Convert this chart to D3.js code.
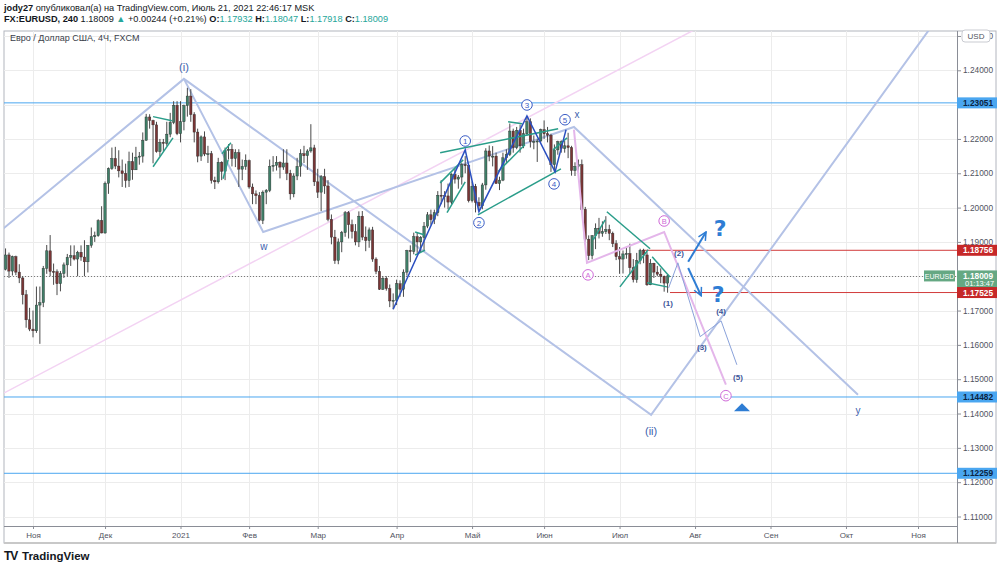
<!DOCTYPE html>
<html><head><meta charset="utf-8">
<script src="https://cdn.jsdelivr.net/npm/d3@7"></script>
<style>
body{margin:0;background:#fff;}
svg{display:block;font-family:"Liberation Sans",Arial,sans-serif;}
</style>
</head><body>
<svg id="c" width="1000" height="567"></svg>
<script>
// ---------------- DATA ----------------
// daily EURUSD candles (trading days); bar index 0 = 2020-11-02
const firstBarIdx = -8;
const dates = [
"2020-10-21","2020-10-22","2020-10-23","2020-10-26","2020-10-27","2020-10-28","2020-10-29","2020-10-30",
"2020-11-02","2020-11-03","2020-11-04","2020-11-05","2020-11-06","2020-11-09","2020-11-10","2020-11-11","2020-11-12","2020-11-13","2020-11-16","2020-11-17","2020-11-18","2020-11-19","2020-11-20","2020-11-23","2020-11-24","2020-11-25","2020-11-26","2020-11-27","2020-11-30",
"2020-12-01","2020-12-02","2020-12-03","2020-12-04","2020-12-07","2020-12-08","2020-12-09","2020-12-10","2020-12-11","2020-12-14","2020-12-15","2020-12-16","2020-12-17","2020-12-18","2020-12-21","2020-12-22","2020-12-23","2020-12-24","2020-12-28","2020-12-29","2020-12-30","2020-12-31",
"2021-01-04","2021-01-05","2021-01-06","2021-01-07","2021-01-08","2021-01-11","2021-01-12","2021-01-13","2021-01-14","2021-01-15","2021-01-18","2021-01-19","2021-01-20","2021-01-21","2021-01-22","2021-01-25","2021-01-26","2021-01-27","2021-01-28","2021-01-29",
"2021-02-01","2021-02-02","2021-02-03","2021-02-04","2021-02-05","2021-02-08","2021-02-09","2021-02-10","2021-02-11","2021-02-12","2021-02-15","2021-02-16","2021-02-17","2021-02-18","2021-02-19","2021-02-22","2021-02-23","2021-02-24","2021-02-25","2021-02-26",
"2021-03-01","2021-03-02","2021-03-03","2021-03-04","2021-03-05","2021-03-08","2021-03-09","2021-03-10","2021-03-11","2021-03-12","2021-03-15","2021-03-16","2021-03-17","2021-03-18","2021-03-19","2021-03-22","2021-03-23","2021-03-24","2021-03-25","2021-03-26","2021-03-29","2021-03-30","2021-03-31",
"2021-04-01","2021-04-02","2021-04-05","2021-04-06","2021-04-07","2021-04-08","2021-04-09","2021-04-12","2021-04-13","2021-04-14","2021-04-15","2021-04-16","2021-04-19","2021-04-20","2021-04-21","2021-04-22","2021-04-23","2021-04-26","2021-04-27","2021-04-28","2021-04-29","2021-04-30",
"2021-05-03","2021-05-04","2021-05-05","2021-05-06","2021-05-07","2021-05-10","2021-05-11","2021-05-12","2021-05-13","2021-05-14","2021-05-17","2021-05-18","2021-05-19","2021-05-20","2021-05-21","2021-05-24","2021-05-25","2021-05-26","2021-05-27","2021-05-28","2021-05-31",
"2021-06-01","2021-06-02","2021-06-03","2021-06-04","2021-06-07","2021-06-08","2021-06-09","2021-06-10","2021-06-11","2021-06-14","2021-06-15","2021-06-16","2021-06-17","2021-06-18","2021-06-21","2021-06-22","2021-06-23","2021-06-24","2021-06-25","2021-06-28","2021-06-29","2021-06-30",
"2021-07-01","2021-07-02","2021-07-05","2021-07-06","2021-07-07","2021-07-08","2021-07-09","2021-07-12","2021-07-13","2021-07-14","2021-07-15","2021-07-16","2021-07-19","2021-07-20","2021-07-21"
];
const open = [
1.1820,1.1862,1.1815,1.1857,1.1812,1.1795,1.1746,1.1673,
1.1646,1.1641,1.1716,1.1723,1.1823,1.1874,1.1814,1.1813,1.1778,1.1808,1.1833,1.1855,1.1860,1.1850,1.1870,1.1856,1.1842,1.1890,1.1915,1.1918,1.1962,
1.1926,1.2071,1.2114,1.2143,1.2121,1.2107,1.2099,1.2079,1.2134,1.2110,1.2147,1.2150,1.2196,1.2264,1.2254,1.2241,1.2163,1.2190,1.2187,1.2214,1.2248,1.2298,
1.2215,1.2250,1.2297,1.2325,1.2271,1.2220,1.2150,1.2206,1.2156,1.2157,1.2079,1.2075,1.2132,1.2106,1.2166,1.2170,1.2143,1.2160,1.2112,1.2120,
1.2137,1.2060,1.2040,1.2035,1.1963,1.2045,1.2050,1.2120,1.2123,1.2132,1.2118,1.2130,1.2100,1.2040,1.2092,1.2120,1.2157,1.2151,1.2165,1.2174,
1.2075,1.2045,1.2090,1.2063,1.1966,1.1914,1.1846,1.1900,1.1927,1.1985,1.1950,1.1930,1.1900,1.1975,1.1914,1.1904,1.1935,1.1850,1.1814,1.1762,1.1794,1.1764,1.1728,
1.1730,1.1778,1.1762,1.1812,1.1875,1.1872,1.1915,1.1900,1.1913,1.1946,1.1979,1.1965,1.1985,1.2036,1.2035,1.2034,1.2016,1.2097,1.2083,1.2089,1.2125,1.2123,
1.2020,1.2062,1.2015,1.2005,1.2066,1.2165,1.2150,1.2150,1.2070,1.2080,1.2145,1.2155,1.2223,1.2175,1.2225,1.2180,1.2215,1.2250,1.2192,1.2193,1.2194,
1.2227,1.2215,1.2211,1.2125,1.2168,1.2192,1.2172,1.2180,1.2175,1.2108,1.2120,1.2125,1.1995,1.1908,1.1860,1.1918,1.1940,1.1925,1.1930,1.1936,1.1925,1.1895,
1.1857,1.1850,1.1865,1.1866,1.1825,1.1790,1.1845,1.1875,1.1862,1.1775,1.1838,1.1812,1.1806,1.1800,1.1780
];
const high = [
1.1881,1.1869,1.1860,1.1860,1.1835,1.1800,1.1760,1.1708,
1.1700,1.1770,1.1770,1.1830,1.1891,1.1920,1.1837,1.1820,1.1815,1.1840,1.1865,1.1890,1.1890,1.1874,1.1890,1.1905,1.1890,1.1942,1.1930,1.1966,1.2004,
1.2076,1.2117,1.2175,1.2177,1.2167,1.2140,1.2128,1.2163,1.2160,1.2177,1.2162,1.2219,1.2273,1.2272,1.2256,1.2250,1.2200,1.2200,1.2250,1.2276,1.2310,1.2310,
1.2310,1.2300,1.2349,1.2345,1.2278,1.2230,1.2210,1.2222,1.2180,1.2165,1.2090,1.2145,1.2135,1.2175,1.2185,1.2185,1.2170,1.2170,1.2140,1.2155,
1.2140,1.2070,1.2050,1.2045,1.2050,1.2054,1.2140,1.2150,1.2150,1.2135,1.2170,1.2170,1.2110,1.2100,1.2145,1.2170,1.2180,1.2170,1.2243,1.2183,
1.2113,1.2095,1.2113,1.2080,1.1980,1.1935,1.1910,1.1932,1.1990,1.1990,1.1965,1.1952,1.1989,1.1990,1.1945,1.1942,1.1944,1.1855,1.1830,1.1800,1.1800,1.1776,1.1750,
1.1790,1.1788,1.1820,1.1877,1.1890,1.1927,1.1928,1.1917,1.1958,1.1987,1.1994,1.1994,1.2048,1.2080,1.2048,1.2070,1.2100,1.2115,1.2095,1.2130,1.2150,1.2125,
1.2076,1.2069,1.2030,1.2072,1.2173,1.2181,1.2179,1.2160,1.2090,1.2160,1.2170,1.2245,1.2230,1.2235,1.2242,1.2230,1.2266,1.2260,1.2210,1.2200,1.2230,
1.2254,1.2235,1.2215,1.2184,1.2195,1.2196,1.2194,1.2218,1.2180,1.2132,1.2140,1.2140,1.2002,1.1919,1.1920,1.1954,1.1970,1.1960,1.1975,1.1950,1.1930,1.1905,
1.1885,1.1875,1.1885,1.1895,1.1850,1.1868,1.1880,1.1880,1.1870,1.1850,1.1839,1.1830,1.1823,1.1802,1.1805
];
const low = [
1.1817,1.1795,1.1802,1.1803,1.1780,1.1718,1.1650,1.1640,
1.1622,1.1635,1.1603,1.1710,1.1807,1.1800,1.1775,1.1745,1.1756,1.1795,1.1800,1.1830,1.1846,1.1800,1.1845,1.1800,1.1811,1.1883,1.1900,1.1915,1.1925,
1.1924,1.2040,1.2110,1.2112,1.2088,1.2060,1.2058,1.2060,1.2081,1.2110,1.2125,1.2131,1.2195,1.2230,1.2129,1.2160,1.2150,1.2165,1.2180,1.2205,1.2243,1.2211,
1.2190,1.2225,1.2265,1.2250,1.2190,1.2132,1.2136,1.2150,1.2130,1.2070,1.2054,1.2070,1.2080,1.2080,1.2140,1.2120,1.2118,1.2060,1.2080,1.2110,
1.2055,1.2010,1.2010,1.1960,1.1952,1.2010,1.2045,1.2105,1.2108,1.2085,1.2110,1.2080,1.2023,1.2030,1.2080,1.2090,1.2130,1.2110,1.2160,1.2063,
1.2028,1.1990,1.2040,1.1960,1.1893,1.1836,1.1835,1.1870,1.1915,1.1910,1.1910,1.1890,1.1885,1.1905,1.1873,1.1883,1.1842,1.1806,1.1760,1.1760,1.1758,1.1710,1.1704,
1.1716,1.1740,1.1740,1.1802,1.1841,1.1864,1.1868,1.1870,1.1873,1.1940,1.1950,1.1952,1.1975,1.2010,1.2000,1.1995,1.2010,1.2070,1.2055,1.2067,1.2100,1.2015,
1.2015,1.1986,1.1993,1.1995,1.2052,1.2135,1.2120,1.2070,1.2051,1.2077,1.2130,1.2150,1.2160,1.2170,1.2160,1.2173,1.2210,1.2175,1.2170,1.2133,1.2190,
1.2200,1.2190,1.2104,1.2104,1.2154,1.2160,1.2160,1.2144,1.2093,1.2092,1.2105,1.1990,1.1892,1.1847,1.1849,1.1879,1.1910,1.1915,1.1923,1.1905,1.1885,1.1847,
1.1807,1.1808,1.1851,1.1807,1.1782,1.1781,1.1835,1.1838,1.1772,1.1774,1.1795,1.1800,1.1780,1.1755,1.1752
];
const close = [
1.1862,1.1815,1.1857,1.1812,1.1795,1.1746,1.1673,1.1646,
1.1641,1.1716,1.1723,1.1823,1.1874,1.1814,1.1813,1.1778,1.1808,1.1833,1.1855,1.1860,1.1850,1.1870,1.1856,1.1842,1.1890,1.1915,1.1918,1.1962,1.1926,
1.2071,1.2114,1.2143,1.2121,1.2107,1.2099,1.2079,1.2134,1.2110,1.2147,1.2150,1.2196,1.2264,1.2254,1.2241,1.2163,1.2190,1.2187,1.2214,1.2248,1.2298,1.2215,
1.2250,1.2297,1.2325,1.2271,1.2220,1.2150,1.2206,1.2156,1.2157,1.2079,1.2075,1.2132,1.2106,1.2166,1.2170,1.2143,1.2160,1.2112,1.2120,1.2137,
1.2060,1.2040,1.2035,1.1963,1.2045,1.2050,1.2120,1.2123,1.2132,1.2118,1.2130,1.2100,1.2040,1.2092,1.2120,1.2157,1.2151,1.2165,1.2174,1.2075,
1.2045,1.2090,1.2063,1.1966,1.1914,1.1846,1.1900,1.1927,1.1985,1.1950,1.1930,1.1900,1.1975,1.1914,1.1904,1.1935,1.1850,1.1814,1.1762,1.1794,1.1764,1.1728,1.1730,
1.1778,1.1762,1.1812,1.1875,1.1872,1.1915,1.1900,1.1913,1.1946,1.1979,1.1965,1.1985,1.2036,1.2035,1.2034,1.2016,1.2097,1.2083,1.2089,1.2125,1.2123,1.2020,
1.2062,1.2015,1.2005,1.2066,1.2165,1.2150,1.2150,1.2070,1.2080,1.2145,1.2155,1.2223,1.2175,1.2225,1.2180,1.2215,1.2250,1.2192,1.2193,1.2194,1.2227,
1.2215,1.2211,1.2125,1.2168,1.2192,1.2172,1.2180,1.2175,1.2108,1.2120,1.2125,1.1995,1.1908,1.1860,1.1918,1.1940,1.1925,1.1930,1.1936,1.1925,1.1895,1.1857,
1.1850,1.1865,1.1866,1.1825,1.1790,1.1845,1.1875,1.1862,1.1775,1.1838,1.1812,1.1806,1.1800,1.1780,1.18009
];

// axis ticks
const monthTickIdx = [0,21,43,63,83,106,128,149,171,193,215,237,258];
const monthTickLabels = ["Ноя","Дек","2021","Фев","Мар","Апр","Май","Июн","Июл","Авг","Сен","Окт","Ноя"];
const priceTicks = [1.11,1.12,1.13,1.14,1.15,1.16,1.17,1.18,1.19,1.20,1.21,1.22,1.23,1.24,1.25];

// horizontal levels
const blueLevels = [1.23051, 1.14482, 1.12259];
const redLevels = [1.18756, 1.17525];
const redLevelFrom = [177.6, 185.7];
const lastPrice = 1.18009;
const lastPriceTimer = "01:13:47";

// drawings (bar index, price)
const outerWave = [[-9,1.1936],[44,1.2375],[180.2,1.1396],[264.4,1.2562]];
const wxyWave = [[44,1.2375],[67.1,1.1929],[157.7,1.2235],[240.5,1.1455]];
const pinkChannel = [[-8.4,1.1460],[193,1.2519]];
const impulse = [[105,1.1704],[126,1.2168],[130,1.1988],[144,1.2267],[152.2,1.2104],[155.4,1.2227]];
const abcWave = [[157.7,1.2227],[161.5,1.1839],[184.0,1.1929],[202.0,1.1484]];
const projWave = [[185.3,1.1766],[188.0,1.1839],[194.5,1.1624],[200.6,1.1670],[205.2,1.1542]];
const greenLines = [
 [35.0,1.2265,40.5,1.2253],[35.0,1.2119,40.8,1.2203],
 [55.1,1.2157,57.7,1.2189],[55.4,1.2084,56.9,1.2139],
 [111.4,1.1929,114.0,1.1921],[111.4,1.1862,114.3,1.1876],
 [118.7,1.2072,125.4,1.2139],[120.7,1.1985,126.0,1.2075],
 [118.7,1.2160,153.1,1.2230],[129.7,1.1979,153.9,1.2113],
 [138.5,1.2250,142.6,1.2244],[135.6,1.2105,143.4,1.2183],
 [151.6,1.2168,155.7,1.2203],
 [163.3,1.1906,166.8,1.1964],[167.3,1.1988,179.9,1.1880],[171.1,1.1769,179.3,1.1877],
 [180.5,1.1857,185.7,1.1798],[179.0,1.1781,184.8,1.1769]
];
const arrowsUpDown = [[191.0,1.1842,196.2,1.1929],[191.0,1.1824,194.8,1.1743]];
const questionMarks = [[200.3,1.1941],[199.7,1.1748]];
const triangleMark = [206.7,1.1418];

const waveText = ["(i)","w","x","y","(ii)"];
const waveTextPos = [[44,1.2410],[67.3,1.1889],[158.6,1.2272],[240.5,1.1411],[180.2,1.1350]];
const impulseText = ["1","2","3","4","5"];
const impulseTextPos = [[126.0,1.2194],[130.0,1.1956],[144.0,1.2299],[151.9,1.2069],[155.1,1.2256]];
const abcText = ["A","B","C"];
const abcTextPos = [[161.8,1.1804],[184.0,1.1961],[202.0,1.1452]];
const subText = ["(1)","(2)","(3)","(4)","(5)"];
const subTextPos = [[185.1,1.1723],[188.3,1.1868],[195.0,1.1594],[200.6,1.1700],[205.5,1.1507]];

// ---------------- CHART ----------------
const svg = d3.select("#c");
const P = {l:4, r:957, t:31, b:526};
const x = d3.scaleLinear().domain([0,258]).range([33,918]);
const y = d3.scaleLinear().domain([1.11,1.24]).range([516.5,70.3]);

svg.append("rect").attr("width",1000).attr("height",567).attr("fill","#fff");

// header
const h1 = svg.append("text").attr("x",4).attr("y",11).attr("font-size",9.2).attr("fill","#131722");
h1.append("tspan").attr("font-weight","bold").text("jody27");
h1.append("tspan").text(" опубликовал(а) на TradingView.com, Июль 21, 2021 22:46:17 MSK");
const h2 = svg.append("text").attr("x",4).attr("y",22).attr("font-size",9.2).attr("fill","#131722");
const teal = "#26a69a";
h2.append("tspan").attr("font-weight","bold").text("FX:EURUSD, 240");
h2.append("tspan").text("  1.18009 ");
h2.append("tspan").attr("fill",teal).text("▲");
h2.append("tspan").text(" +0.00244 (+0.21%) ");
[["O:","1.17932"],["H:","1.18047"],["L:","1.17918"],["C:","1.18009"]].forEach((d,i)=>{
  h2.append("tspan").attr("font-weight","bold").text((i?" ":"")+d[0]);
  h2.append("tspan").attr("fill",teal).text(d[1]);
});

// frame
svg.append("rect").attr("x",P.l).attr("y",P.t).attr("width",996-P.l).attr("height",543-P.t)
  .attr("fill","none").attr("stroke","#b2b5be").attr("stroke-width",1);
svg.append("line").attr("x1",P.l).attr("x2",996).attr("y1",543).attr("y2",543).attr("stroke","#c8c8c8").attr("stroke-width",2);

// grid
const grid = svg.append("g");
grid.selectAll(".hg").data(priceTicks.filter(p=>y(p)>P.t && y(p)<P.b)).join("line")
  .attr("x1",P.l).attr("x2",P.r).attr("y1",d=>Math.round(y(d))+0.5).attr("y2",d=>Math.round(y(d))+0.5)
  .attr("stroke","#ececec");
grid.selectAll(".vg").data(monthTickIdx).join("line")
  .attr("x1",d=>Math.round(x(d))+0.5).attr("x2",d=>Math.round(x(d))+0.5).attr("y1",P.t).attr("y2",P.b)
  .attr("stroke","#ececec");

// clip
svg.append("clipPath").attr("id","pc").append("rect").attr("x",P.l).attr("y",P.t).attr("width",P.r-P.l).attr("height",P.b-P.t);
const g = svg.append("g").attr("clip-path","url(#pc)");

// chart title
svg.append("text").attr("x",10).attr("y",41).attr("font-size",9).attr("fill","#3a3e4a").text("Евро / Доллар США, 4Ч, FXCM");

// horizontal levels
g.selectAll(".bl").data(blueLevels).join("line")
  .attr("x1",P.l).attr("x2",P.r).attr("y1",d=>y(d)).attr("y2",d=>y(d)).attr("stroke","#4aa6f0").attr("stroke-width",1);
g.selectAll(".rl").data(redLevels).join("line")
  .attr("x1",(d,i)=>x(redLevelFrom[i])).attr("x2",P.r).attr("y1",d=>y(d)).attr("y2",d=>y(d)).attr("stroke","#d23b3b").attr("stroke-width",1);
g.append("line").attr("x1",P.l).attr("x2",P.r).attr("y1",Math.round(y(lastPrice))+0.5).attr("y2",Math.round(y(lastPrice))+0.5)
  .attr("stroke","#7a7a7a").attr("stroke-dasharray","1,2");

// pink channel + big waves
const line = d3.line().x(d=>x(d[0])).y(d=>y(d[1]));
g.append("path").attr("d",line(pinkChannel)).attr("fill","none").attr("stroke","#f3d3f3").attr("stroke-width",1.5);
g.append("path").attr("d",line(outerWave)).attr("fill","none").attr("stroke","#b4c2e6").attr("stroke-width",2);
g.append("path").attr("d",line(wxyWave)).attr("fill","none").attr("stroke","#b4c2e6").attr("stroke-width",2);

// candles
const bars = dates.map((d,i)=>({idx:i+firstBarIdx,o:open[i],h:high[i],l:low[i],c:close[i]}));
const cg = g.append("g");
cg.selectAll(".wk").data(bars).join("line")
  .attr("x1",d=>x(d.idx)).attr("x2",d=>x(d.idx)).attr("y1",d=>y(d.h)).attr("y2",d=>y(d.l))
  .attr("stroke","#4a4a4a").attr("stroke-width",1);
cg.selectAll(".bd").data(bars).join("rect")
  .attr("x",d=>x(d.idx)-1.2).attr("width",2.4)
  .attr("y",d=>y(Math.max(d.o,d.c))).attr("height",d=>Math.max(1,Math.abs(y(d.o)-y(d.c))))
  .attr("fill",d=>d.c>=d.o?"#3f7f68":"#7a3535").attr("stroke","#2c2c2c").attr("stroke-width",0.4);

// pink ABC
g.append("path").attr("d",line(abcWave)).attr("fill","none").attr("stroke","#e4b6ea").attr("stroke-width",2);
// green trend lines
g.selectAll(".gl").data(greenLines).join("line")
  .attr("x1",d=>x(d[0])).attr("y1",d=>y(d[1])).attr("x2",d=>x(d[2])).attr("y2",d=>y(d[3]))
  .attr("stroke","#2a9d8a").attr("stroke-width",1.5);
// impulse
g.append("path").attr("d",line(impulse)).attr("fill","none").attr("stroke","#2a4fc0").attr("stroke-width",1.5);
// projection
g.append("path").attr("d",line(projWave)).attr("fill","none").attr("stroke","#8aa2da").attr("stroke-width",1);

// arrows
svg.append("defs").append("marker").attr("id","ah").attr("viewBox","0 0 10 10").attr("refX",9).attr("refY",5)
  .attr("markerWidth",5).attr("markerHeight",5).attr("orient","auto").attr("markerUnits","strokeWidth")
  .append("path").attr("d","M1,1 L9,5 L1,9").attr("fill","none").attr("stroke","#2e7dd4").attr("stroke-width",1.5);
g.selectAll(".ar").data(arrowsUpDown).join("line")
  .attr("x1",d=>x(d[0])).attr("y1",d=>y(d[1])).attr("x2",d=>x(d[2])).attr("y2",d=>y(d[3]))
  .attr("stroke","#2e7dd4").attr("stroke-width",2).attr("marker-end","url(#ah)");
g.selectAll(".qm").data(questionMarks).join("text")
  .attr("x",d=>x(d[0])).attr("y",d=>y(d[1])+8).attr("text-anchor","middle")
  .attr("font-size",22).attr("font-weight","bold").attr("fill","#2e7dd4").attr("font-family","DejaVu Sans, sans-serif").text("?");
g.append("path").attr("d",()=>{const cx=x(triangleMark[0]),cy=y(triangleMark[1]);return `M${cx-8},${cy+4}L${cx},${cy-4}L${cx+8},${cy+4}Z`;})
  .attr("fill","#2e7dd4");

// labels
g.selectAll(".wt").data(waveText).join("text")
  .attr("x",(d,i)=>x(waveTextPos[i][0])).attr("y",(d,i)=>y(waveTextPos[i][1])+4).attr("text-anchor","middle")
  .attr("font-size",(d)=>d.length>1?11:10).attr("fill","#3d5fae").text(d=>d);
const ig = g.selectAll(".it").data(impulseText).join("g")
  .attr("transform",(d,i)=>`translate(${x(impulseTextPos[i][0])},${y(impulseTextPos[i][1])})`);
ig.append("circle").attr("r",5.3).attr("fill","#fff").attr("stroke","#3a5cc5").attr("stroke-width",1);
ig.append("text").attr("y",2.9).attr("text-anchor","middle").attr("font-size",8).attr("fill","#3a5cc5").text(d=>d);
const ag = g.selectAll(".at").data(abcText).join("g")
  .attr("transform",(d,i)=>`translate(${x(abcTextPos[i][0])},${y(abcTextPos[i][1])})`);
ag.append("circle").attr("r",5.3).attr("fill","#fff").attr("stroke","#cf6ad8").attr("stroke-width",1);
ag.append("text").attr("y",2.9).attr("text-anchor","middle").attr("font-size",7.5).attr("fill","#cf6ad8").text(d=>d);
g.selectAll(".st").data(subText).join("text")
  .attr("x",(d,i)=>x(subTextPos[i][0])).attr("y",(d,i)=>y(subTextPos[i][1])+3).attr("text-anchor","middle")
  .attr("font-size",8).attr("font-weight","bold").attr("fill","#3d5599").text(d=>d);

// axes
const ya = svg.append("g").attr("transform",`translate(${P.r},0)`)
  .call(d3.axisRight(y).tickValues(priceTicks).tickFormat(d3.format(".5f")).tickSize(4).tickPadding(2));
ya.select(".domain").attr("stroke","#8a8d96").attr("d",`M0.5,${P.t}V${543}`);
ya.selectAll(".tick line").attr("stroke","#8a8d96");
ya.selectAll(".tick text").attr("font-size",8.3).attr("fill","#50535e").attr("font-family","Liberation Sans, Arial, sans-serif");

const xa = svg.append("g").attr("transform",`translate(0,${P.b})`)
  .call(d3.axisBottom(x).tickValues(monthTickIdx).tickFormat((d,i)=>monthTickLabels[i]).tickSize(3).tickPadding(3));
xa.select(".domain").attr("stroke","#8a8d96").attr("d",`M${P.l},0.5H${P.r}`);
xa.selectAll(".tick line").attr("stroke","#8a8d96");
xa.selectAll(".tick text").attr("font-size",8).attr("fill","#50535e").attr("font-family","Liberation Sans, Arial, sans-serif");

// USD box
svg.append("rect").attr("x",962).attr("y",30).attr("width",28).attr("height",12).attr("rx",3).attr("fill","#fff").attr("stroke","#c9cbd1");
svg.append("text").attr("x",976).attr("y",39).attr("text-anchor","middle").attr("font-size",8).attr("fill","#50535e").text("USD");

// price labels on axis
function priceLabel(p, bg, fg, extra){
  const cy = y(p);
  const h = extra ? 18 : 11;
  svg.append("rect").attr("x",P.r).attr("y",cy-5.5).attr("width",40).attr("height",h).attr("fill",bg);
  svg.append("text").attr("x",P.r+6).attr("y",cy+3).attr("font-size",8.3).attr("font-weight","bold").attr("fill",fg).text(d3.format(".5f")(p));
  if(extra) svg.append("text").attr("x",P.r+8).attr("y",cy+10.5).attr("font-size",7.5).attr("fill",fg).text(extra);
}
blueLevels.forEach(p=>priceLabel(p,"#4aa6f0","#0b2442"));
priceLabel(redLevels[0],"#c62828","#fff");
priceLabel(lastPrice,"#65a883","#fff",lastPriceTimer);
priceLabel(redLevels[1],"#c62828","#fff");
// EURUSD tag
svg.append("rect").attr("x",924).attr("y",y(lastPrice)-5.5).attr("width",31).attr("height",11).attr("fill","#65a883");
svg.append("text").attr("x",939.5).attr("y",y(lastPrice)+2.8).attr("text-anchor","middle").attr("font-size",7).attr("fill","#fff").text("EURUSD");

// TradingView logo
const lg = svg.append("g").attr("transform","translate(4,560)");
lg.append("text").attr("x",0).attr("y",0).attr("font-size",12).attr("font-weight","bold").attr("fill","#131722").attr("letter-spacing",-1).text("TV");
lg.append("text").attr("x",18).attr("y",0).attr("font-size",11.5).attr("font-weight","bold").attr("fill","#131722").text("TradingView");
</script>
</body></html>
